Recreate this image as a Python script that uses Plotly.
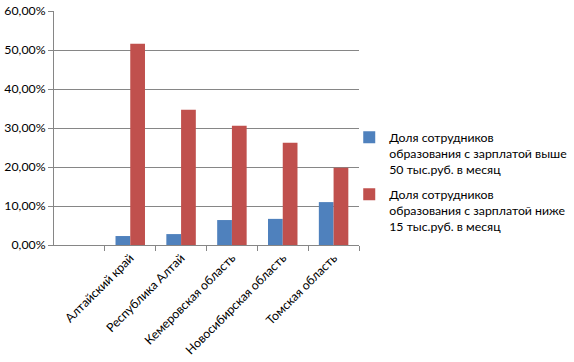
import plotly.graph_objects as go

categories = ["Алтайский край", "Республика Алтай", "Кемеровская область",
              "Новосибирская область", "Томская область"]
share_above_50k = [0.023, 0.028, 0.064, 0.067, 0.110]
share_below_15k = [0.516, 0.347, 0.306, 0.262, 0.198]
series_names = [
    "Доля сотрудников<br>образования с зарплатой выше<br>50 тыс.руб. в месяц",
    "Доля сотрудников<br>образования с зарплатой ниже<br>15 тыс.руб. в месяц",
]
y_ticks = [0, 0.1, 0.2, 0.3, 0.4, 0.5, 0.6]

FONT = "Lato, 'Liberation Sans', sans-serif"
FS = 12.3

fig = go.Figure()
fig.add_trace(go.Bar(x=categories, y=share_above_50k, name=series_names[0],
                     legendgroup="a",
                     marker=dict(color="#4F81BD", line=dict(width=0))))
fig.add_trace(go.Bar(x=categories, y=share_below_15k, name=series_names[1],
                     legendgroup="b",
                     marker=dict(color="#C0504D", line=dict(width=0))))

fig.update_layout(
    width=574, height=362,
    margin=dict(l=54, r=215, t=11, b=117, pad=0, autoexpand=False),
    paper_bgcolor="white", plot_bgcolor="white",
    barmode="group", bargap=0.42, bargroupgap=0,
    separators=", ",
    font=dict(family=FONT, size=FS, color="#000000"),
    showlegend=True,
    legend=dict(x=0.968, xanchor="left", y=0.27, yanchor="middle",
                font=dict(family=FONT, size=FS, color="#000000"),
                valign="top", itemwidth=30, bgcolor="rgba(0,0,0,0)",
                traceorder="grouped", tracegroupgap=6),
    xaxis=dict(type="category", range=[-1.5, 4.5], tickangle=-45,
               tickson="boundaries", ticks="outside", ticklen=5,
               tickcolor="#868686", showline=True, linecolor="#868686",
               linewidth=1, showgrid=False, tickfont=dict(size=FS),
               automargin=False),
    yaxis=dict(range=[0, 0.6], tickvals=y_ticks, tickformat=".2%",
               ticks="outside", ticklen=5, tickcolor="#868686",
               showline=True, linecolor="#868686", linewidth=1,
               showgrid=True, gridcolor="#868686", gridwidth=1,
               zeroline=False, tickfont=dict(size=FS), automargin=False),
)

fig.write_html("out.html", config={"displayModeBar": False},
               post_script="document.body.style.margin='0px';")
